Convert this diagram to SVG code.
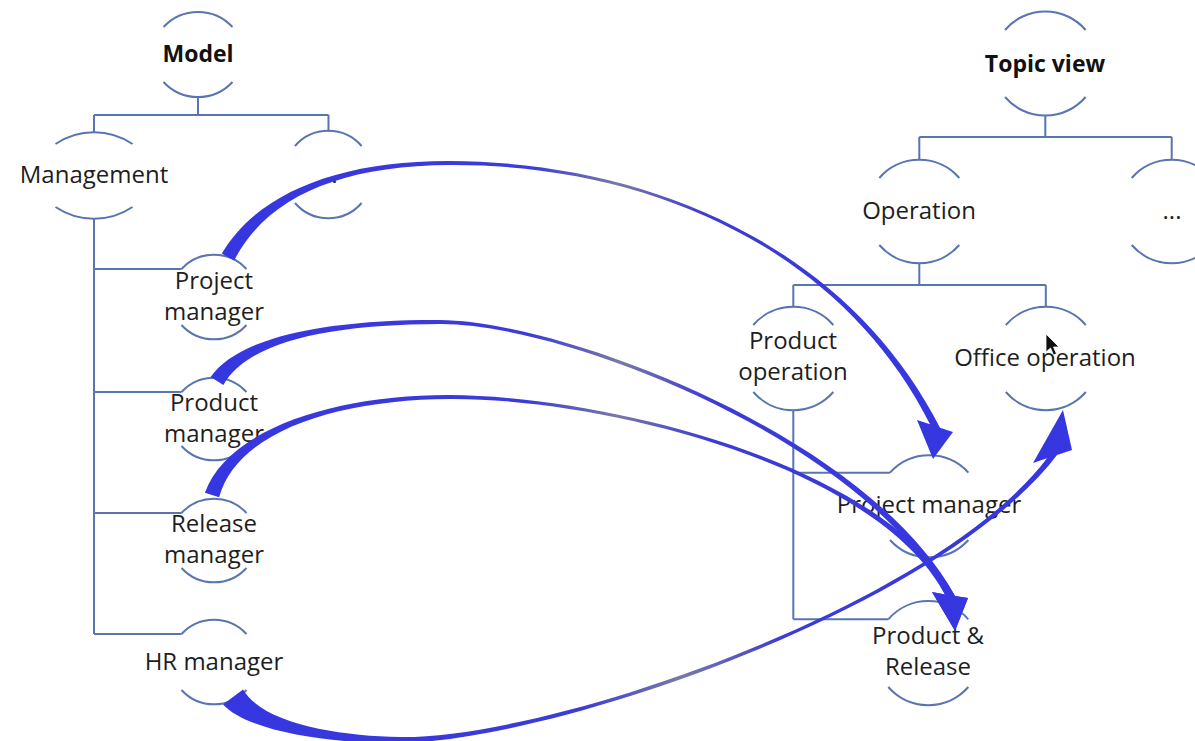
<svg xmlns="http://www.w3.org/2000/svg" width="1195" height="741" viewBox="0 0 1195 741">
  <style>
    .arc { fill: none; stroke: #5875b2; stroke-width: 2; }
    .lnk { fill: none; stroke: #5875b2; stroke-width: 2; }
    .lbl { font-family: "Open Sans", "Noto Sans", "DejaVu Sans", sans-serif; font-size: 24px; fill: #1e1e1e; text-anchor: middle; }
    .ttl { font-family: "Open Sans", "Noto Sans", "DejaVu Sans", sans-serif; font-size: 23px; font-weight: 700; fill: #111; text-anchor: middle; }
    .arw { fill: url(#ag); stroke: none; }
  </style>
  <defs>
    <linearGradient id="ag" x1="0" y1="0" x2="1" y2="0">
      <stop offset="0" stop-color="#3636e2"/>
      <stop offset="0.42" stop-color="#3c3cd6"/>
      <stop offset="0.54" stop-color="#7878a8"/>
      <stop offset="0.66" stop-color="#3c3cd6"/>
      <stop offset="1" stop-color="#3636e2"/>
    </linearGradient>
  </defs>
  <rect width="1195" height="741" fill="#ffffff"/>

  <g id="links">
    <path class="lnk" d="M198,97V115M94,115H328.5M94,115V132M328.5,115V132"/>
    <path class="lnk" d="M94,218V634M94,269H181.5M94,392H181.5M94,513H181.5M94,634H181.5"/>
    <path class="lnk" d="M1045.3,115.6V137M919.3,137H1171.7M919.3,137V160M1171.7,137V160"/>
    <path class="lnk" d="M919.3,263V285M793.3,285H1045.8M793.3,285V306M1045.8,285V306"/>
    <path class="lnk" d="M793.3,410V619.3M793.3,472.7H890M793.3,619.3H888.3"/>
  </g>

  <g id="node-model">
    <path class="arc" d="M163.5,27A47,47 0 0 1 232.5,27"/>
    <path class="arc" d="M163.5,82A47,47 0 0 0 232.5,82"/>
    <text class="ttl" x="198" y="62">Model</text>
  </g>
  <g id="node-management">
    <path class="arc" d="M55.5,144A69,69 0 0 1 132.5,144"/>
    <path class="arc" d="M55.5,207A69,69 0 0 0 132.5,207"/>
    <text class="lbl" x="94" y="183">Management</text>
  </g>
  <g id="node-more-left">
    <path class="arc" d="M295,146A44,44 0 0 1 361.6,146"/>
    <path class="arc" d="M295,203A44,44 0 0 0 361.6,203"/>
    <text class="lbl" x="328" y="183">...</text>
  </g>
  <g id="node-project-manager">
    <path class="arc" d="M181.5,269A44,44 0 0 1 246.5,269"/>
    <path class="arc" d="M181.5,325A44,44 0 0 0 246.5,325"/>
    <text class="lbl" x="214" y="289">Project</text>
    <text class="lbl" x="214" y="320">manager</text>
  </g>
  <g id="node-product-manager">
    <path class="arc" d="M181.5,392A44,44 0 0 1 246.5,392"/>
    <path class="arc" d="M181.5,446A44,44 0 0 0 246.5,446"/>
    <text class="lbl" x="214" y="411">Product</text>
    <text class="lbl" x="214" y="442">manager</text>
  </g>
  <g id="node-release-manager">
    <path class="arc" d="M181.5,513A44,44 0 0 1 246.5,513"/>
    <path class="arc" d="M181.5,568A44,44 0 0 0 246.5,568"/>
    <text class="lbl" x="214" y="532">Release</text>
    <text class="lbl" x="214" y="563">manager</text>
  </g>
  <g id="node-hr-manager">
    <path class="arc" d="M181.5,634A44,44 0 0 1 246.5,634"/>
    <path class="arc" d="M181.5,690A44,44 0 0 0 246.5,690"/>
    <text class="lbl" x="214" y="670">HR manager</text>
  </g>

  <g id="node-topic-view">
    <path class="arc" d="M1005,30A53,53 0 0 1 1085.6,30"/>
    <path class="arc" d="M1005,97A53,53 0 0 0 1085.6,97"/>
    <text class="ttl" x="1045" y="72">Topic view</text>
  </g>
  <g id="node-operation">
    <path class="arc" d="M879.3,178A53,53 0 0 1 959.3,178"/>
    <path class="arc" d="M879.3,245A53,53 0 0 0 959.3,245"/>
    <text class="lbl" x="919" y="219">Operation</text>
  </g>
  <g id="node-more-right">
    <path class="arc" d="M1131.7,178A53,53 0 0 1 1211.7,178"/>
    <path class="arc" d="M1131.7,245A53,53 0 0 0 1211.7,245"/>
    <text class="lbl" x="1172" y="219">...</text>
  </g>
  <g id="node-product-operation">
    <path class="arc" d="M753.3,325A53,53 0 0 1 833.3,325"/>
    <path class="arc" d="M753.3,392A53,53 0 0 0 833.3,392"/>
    <text class="lbl" x="793" y="349">Product</text>
    <text class="lbl" x="793" y="380">operation</text>
  </g>
  <g id="node-office-operation">
    <path class="arc" d="M1005.8,325A53,53 0 0 1 1085.8,325"/>
    <path class="arc" d="M1005.8,392A53,53 0 0 0 1085.8,392"/>
    <text class="lbl" x="1045" y="366">Office operation</text>
  </g>
  <g id="node-project-manager-right">
    <path class="arc" d="M890,472.7A53,53 0 0 1 968.4,472.7"/>
    <path class="arc" d="M890,540A53,53 0 0 0 968.4,540"/>
    <text class="lbl" x="929" y="513">Project manager</text>
  </g>
  <g id="node-product-release">
    <path class="arc" d="M888.3,619.3A53,53 0 0 1 968.3,619.3"/>
    <path class="arc" d="M888.3,687A53,53 0 0 0 968.3,687"/>
    <text class="lbl" x="928" y="644">Product &amp;</text>
    <text class="lbl" x="928" y="675">Release</text>
  </g>

  <g id="connectors">
    <path class="arw" d="M221.8,253.6C257.6,192.6 340,160.5 450,161C650,162 847.7,246.7 940,427.7L953,432L933,459L917,420L930,424.3C842.3,249.4 650,164 450,165C340,165.5 266.4,197.4 234.2,260.4Z"/>
    <path class="arw" d="M210.6,377C239.3,335.9 330,319.5 440,320C560,321 866.7,433.9 955,596L968,598L955,631L932,592L945,594.5C860.5,437.3 560,323 440,324C330,324.5 247.8,341.2 223.4,385Z"/>
    <path class="arw" d="M204.9,492.8C228.3,427 340,394.5 450,395C600,396 881.1,460.3 955,596L968,598L955,631L932,592L945,594.5C874.9,463.7 600,398 450,399C340,399.5 237.8,430 219.1,497.3Z"/>
    <path class="arw" d="M243,689.5C263.4,724.2 340,736 400,737C550,739 933.6,607.2 1047,458.3L1033,463L1063,410L1072,450L1057,455C938.4,610.8 550,741 400,743C340,744 250.6,733.8 223,704.5Z"/>
  </g>

  <g id="cursor">
    <path d="M1046,334L1046,352L1050.5,348L1053.5,355L1056.5,353.8L1053.5,347L1059,347Z" fill="#111" stroke="#fff" stroke-width="0.8"/>
  </g>
</svg>
